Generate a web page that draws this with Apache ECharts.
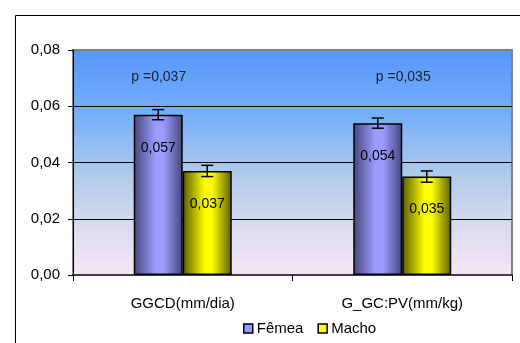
<!DOCTYPE html>
<html>
<head>
<meta charset="utf-8">
<script src="https://cdn.jsdelivr.net/npm/echarts@6/dist/echarts.min.js"></script>
<style>
  html, body { margin: 0; padding: 0; background: #fff; }
  #chart { width: 520px; height: 343px; }
</style>
</head>
<body>
<div id="chart"></div>
<script>
// Growth variables by sex, with standard errors and p-values
const categories = ['GGCD(mm/dia)', 'G_GC:PV(mm/kg)'];
const femea = [0.057, 0.054];
const macho = [0.037, 0.035];
const femeaErr = [0.0018, 0.0018];
const machoErr = [0.002, 0.002];
const pLabels = ['p =0,037', 'p =0,035'];
const pLevel = [0.0704, 0.0704];
const yTicks = [0, 0.02, 0.04, 0.06, 0.08];

const FONT = "'Liberation Sans', Arial, sans-serif";
const BAR_W = 49;

const comma = v => v.toFixed(2).replace('.', ',');
const comma3 = v => v.toFixed(3).replace('.', ',');

function barGradient(dark, light) {
  return new echarts.graphic.LinearGradient(0, 0, 1, 0, [
    { offset: 0, color: dark },
    { offset: 0.45, color: light },
    { offset: 0.6, color: light },
    { offset: 1, color: dark }
  ]);
}

const femeaColor = barGradient('#45457a', '#9c9cff');
const machoColor = barGradient('#5c5c00', '#ffff00');

// Error bar series: an I-shaped mark centred on each bar
function errorSeries(values, errs, shift, name) {
  return {
    type: 'custom',
    name: name + '-err',
    z: 5,
    silent: true,
    data: values.map((v, i) => [i, v, errs[i]]),
    renderItem: (params, api) => {
      const x = api.coord([api.value(0), 0])[0] + shift;
      const hi = api.coord([api.value(0), api.value(1) + api.value(2)])[1];
      const lo = api.coord([api.value(0), api.value(1) - api.value(2)])[1];
      const cap = 6;
      const style = { stroke: '#000', lineWidth: 1.5 };
      return {
        type: 'group',
        children: [
          { type: 'line', shape: { x1: x, y1: hi, x2: x, y2: lo }, style },
          { type: 'line', shape: { x1: x - cap, y1: hi, x2: x + cap, y2: hi }, style },
          { type: 'line', shape: { x1: x - cap, y1: lo, x2: x + cap, y2: lo }, style }
        ]
      };
    }
  };
}

const barLabel = {
  show: true,
  position: 'insideTop',
  distance: 26,
  fontFamily: FONT,
  fontSize: 14,
  color: '#000',
  formatter: p => comma3(p.value)
};

const chart = echarts.init(document.getElementById('chart'), null, { renderer: 'canvas' });

chart.setOption({
  animation: false,
  backgroundColor: '#fff',
  textStyle: { fontFamily: FONT },
  graphic: [{
    type: 'rect',
    left: 13, top: 13,
    shape: { width: 620, height: 420 },
    style: { fill: 'none', stroke: '#000', lineWidth: 1 },
    z: -10
  }],
  grid: {
    left: 73, top: 50, right: 8, bottom: 68,
    show: true,
    borderColor: '#808080',
    borderWidth: 2,
    backgroundColor: new echarts.graphic.LinearGradient(0, 0, 0, 1, [
      { offset: 0, color: '#5596fb' },
      { offset: 0.3, color: '#78b0f8' },
      { offset: 0.55, color: '#aecbea' },
      { offset: 0.8, color: '#dcdcf0' },
      { offset: 1, color: '#f8e6f6' }
    ])
  },
  legend: {
    left: 243, top: 321,
    padding: 0,
    itemWidth: 9, itemHeight: 9,
    itemGap: 14,
    icon: 'rect',
    textStyle: { fontFamily: FONT, fontSize: 15, color: '#000', padding: [0, 0, 0, -1] },
    data: [
      { name: 'Fêmea', itemStyle: { color: '#9999ff', borderColor: '#000', borderWidth: 1.5 } },
      { name: 'Macho', itemStyle: { color: '#ffff00', borderColor: '#000', borderWidth: 1.5 } }
    ]
  },
  xAxis: {
    type: 'category',
    data: categories,
    axisLine: { lineStyle: { color: '#404040', width: 2 } },
    axisTick: { show: true, length: 6, lineStyle: { color: '#000' } },
    axisLabel: { fontFamily: FONT, fontSize: 15, color: '#000', margin: 21 }
  },
  yAxis: {
    type: 'value',
    min: 0, max: 0.08, interval: 0.02,
    axisLine: { show: true, lineStyle: { color: '#000', width: 1 } },
    axisTick: { show: true, length: 5, lineStyle: { color: '#000' } },
    axisLabel: {
      fontFamily: FONT, fontSize: 15, color: '#000', margin: 13,
      formatter: v => yTicks.includes(+v.toFixed(2)) ? comma(v) : ''
    },
    splitLine: {
      lineStyle: { color: ['#555', '#000', '#000', '#000', '#808080'], width: 1 }
    }
  },
  series: [
    {
      name: 'Fêmea', type: 'bar', data: femea,
      barWidth: BAR_W, barGap: 0,
      itemStyle: { color: femeaColor, borderColor: '#000', borderWidth: 1.5 },
      label: barLabel
    },
    {
      name: 'Macho', type: 'bar', data: macho,
      barWidth: BAR_W, barGap: 0,
      itemStyle: { color: machoColor, borderColor: '#000', borderWidth: 1.5 },
      label: barLabel
    },
    errorSeries(femea, femeaErr, -BAR_W / 2, 'Fêmea'),
    errorSeries(macho, machoErr, BAR_W / 2, 'Macho'),
    {
      type: 'scatter',
      name: 'p',
      symbolSize: 0,
      silent: true,
      data: pLevel.map((v, i) => ({
        value: [i, v],
        label: { offset: [i === 0 ? -24 : 1, 0] }
      })),
      label: {
        show: true,
        position: 'inside',
        fontFamily: FONT, fontSize: 14, color: '#000',
        formatter: p => pLabels[p.dataIndex]
      }
    }
  ]
});
</script>
</body>
</html>
